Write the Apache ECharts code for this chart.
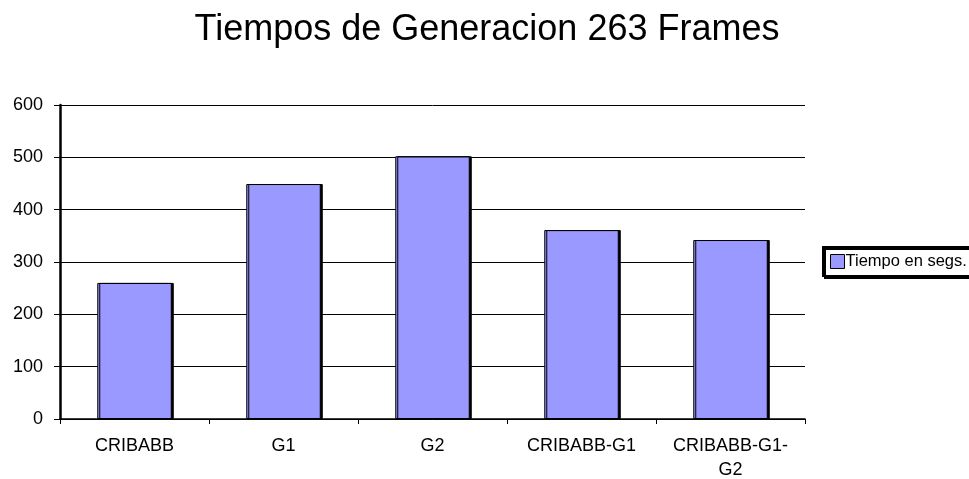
<!DOCTYPE html>
<html>
<head>
<meta charset="utf-8">
<script src="https://cdn.jsdelivr.net/npm/echarts@6/dist/echarts.min.js"></script>
<style>
    html, body { margin: 0; padding: 0; background: #fff; }
    #chart { width: 969px; height: 479px; }
</style>
</head>
<body>
<div id="chart"></div>
<script>
const categories = ['CRIBABB', 'G1', 'G2', 'CRIBABB-G1', 'CRIBABB-G1-G2'];
const tiempos = [260, 449, 502, 361, 342];
const seriesName = 'Tiempo en segs.';

const chart = echarts.init(document.getElementById('chart'));

// long names wrap after the last hyphen, like the original
function wrapLabel(v) {
    if (v.length <= 12) return v;
    const i = v.lastIndexOf('-');
    return v.slice(0, i + 1) + '\n' + v.slice(i + 1);
}

const option = {
    backgroundColor: '#fff',
    animation: false,
    textStyle: { fontFamily: 'Liberation Sans, Arial, sans-serif' },
    title: {
        text: 'Tiempos de Generacion 263 Frames',
        left: 482,
        textAlign: 'center',
        top: 7,
        textStyle: { fontSize: 36, fontWeight: 'normal', color: '#000' }
    },
    legend: {
        left: 823,
        top: 247,
        orient: 'vertical',
        backgroundColor: '#fff',
        borderColor: '#000',
        borderWidth: 2,
        padding: [6, 40, 6, 7],
        shadowColor: '#000',
        shadowOffsetX: 2,
        shadowOffsetY: 2,
        itemWidth: 14,
        itemHeight: 14,
        icon: 'rect',
        itemStyle: { borderColor: '#000', borderWidth: 1 },
        textStyle: { fontSize: 16.5, color: '#000', padding: [0, 0, 0, -4] },
        data: [seriesName]
    },
    grid: { left: 60, right: 164, top: 105, bottom: 60, containLabel: false, outerBoundsMode: 'none' },
    xAxis: {
        type: 'category',
        data: categories,
        axisLine: { lineStyle: { color: '#000', width: 1.5 } },
        axisTick: { show: true, length: 5, lineStyle: { color: '#000' } },
        axisLabel: { color: '#000', fontSize: 18, margin: 15, lineHeight: 24, formatter: wrapLabel, interval: 0 }
    },
    yAxis: {
        type: 'value',
        min: 0,
        max: 600,
        interval: 100,
        axisLine: { show: true, lineStyle: { color: '#000', width: 2.5 } },
        axisTick: { show: true, length: 6, lineStyle: { color: '#000' } },
        axisLabel: { color: '#000', fontSize: 18, margin: 17 },
        splitLine: { lineStyle: { color: '#000', width: 1 } }
    },
    series: [
        {
            name: seriesName,
            type: 'bar',
            data: tiempos,
            barWidth: '50%',
            itemStyle: {
                color: '#9999ff',
                borderColor: '#000',
                borderWidth: 1,
                shadowColor: '#000',
                shadowOffsetX: 2,
                shadowOffsetY: 0,
                shadowBlur: 0
            }
        }
    ]
};

chart.setOption(option);
</script>
</body>
</html>
